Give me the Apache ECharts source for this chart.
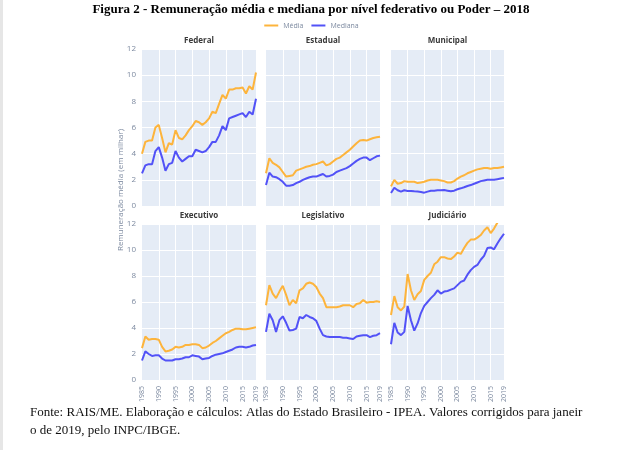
<!DOCTYPE html>
<html><head><meta charset="utf-8">
<script src="https://cdn.jsdelivr.net/npm/echarts@6/dist/echarts.min.js"></script>
<style>html,body{margin:0;padding:0;background:#fff}#c{width:623px;height:450px}</style>
</head><body><div id="c"></div>
<script>
const years = ['1985','1986','1987','1988','1989','1990','1991','1992','1993','1994','1995','1996','1997','1998','1999','2000','2001','2002','2003','2004','2005','2006','2007','2008','2009','2010','2011','2012','2013','2014','2015','2016','2017','2018','2019'];
const panels = ['Federal','Estadual','Municipal','Executivo','Legislativo','Judiciário'];
const seriesNames = ['Média','Mediana'];
const yTicks = [0,2,4,6,8,10,12];

const federalMedia   = [4.0,4.9,5.0,5.0,6.0,6.2,5.2,4.1,4.8,4.7,5.8,5.2,5.1,5.4,5.8,6.1,6.5,6.4,6.2,6.4,6.7,7.2,7.1,7.8,8.5,8.2,8.9,8.9,9.0,9.0,9.05,8.6,9.15,8.9,10.2];
const federalMediana = [2.5,3.1,3.2,3.2,4.2,4.5,3.7,2.7,3.2,3.3,4.2,3.7,3.4,3.6,3.8,3.8,4.3,4.2,4.1,4.2,4.5,4.9,4.9,5.4,6.1,5.8,6.7,6.8,6.9,7.0,7.1,6.8,7.2,7.0,8.2];
const estadualMedia   = [2.5,3.65,3.3,3.15,2.95,2.6,2.25,2.3,2.35,2.7,2.8,2.9,3.0,3.05,3.15,3.2,3.3,3.4,3.1,3.2,3.4,3.6,3.7,3.9,4.1,4.3,4.55,4.8,5.0,5.05,5.0,5.1,5.2,5.25,5.3];
const estadualMediana = [1.6,2.55,2.25,2.2,2.05,1.85,1.55,1.55,1.6,1.75,1.85,2.0,2.1,2.2,2.25,2.25,2.35,2.45,2.25,2.3,2.4,2.6,2.7,2.8,2.9,3.05,3.25,3.45,3.6,3.7,3.7,3.5,3.65,3.8,3.85];
const municipalMedia   = [1.5,2.0,1.7,1.75,1.9,1.85,1.85,1.85,1.75,1.8,1.85,1.95,2.0,2.0,2.0,1.95,1.9,1.8,1.8,1.9,2.1,2.25,2.35,2.5,2.6,2.7,2.8,2.85,2.9,2.9,2.85,2.9,2.9,2.95,3.0];
const municipalMediana = [1.0,1.4,1.2,1.1,1.2,1.15,1.15,1.12,1.1,1.07,1.02,1.1,1.17,1.17,1.2,1.2,1.22,1.17,1.12,1.17,1.28,1.35,1.43,1.53,1.6,1.7,1.8,1.9,1.95,2.0,2.0,2.0,2.05,2.1,2.15];
const executivoMedia   = [2.45,3.35,3.1,3.15,3.15,3.1,2.55,2.2,2.25,2.35,2.55,2.5,2.55,2.7,2.7,2.75,2.75,2.7,2.45,2.5,2.65,2.85,3.0,3.2,3.4,3.6,3.7,3.85,3.95,3.95,3.9,3.9,3.95,4.0,4.05];
const executivoMediana = [1.5,2.2,2.0,1.85,1.9,1.9,1.65,1.5,1.5,1.5,1.6,1.6,1.65,1.75,1.75,1.9,1.85,1.8,1.6,1.65,1.7,1.85,1.95,2.0,2.05,2.15,2.25,2.35,2.5,2.55,2.55,2.5,2.55,2.65,2.7];
const legislativoMedia   = [5.75,7.3,6.65,6.3,6.8,7.25,6.55,5.75,6.15,5.9,6.9,7.05,7.4,7.5,7.4,7.15,6.65,6.3,5.6,5.6,5.6,5.6,5.65,5.75,5.75,5.75,5.6,5.85,5.9,6.15,5.95,6.0,6.0,6.05,6.0];
const legislativoMediana = [3.7,5.1,4.6,3.7,4.6,4.9,4.4,3.8,3.85,3.95,4.85,4.75,5.0,4.85,4.75,4.55,3.95,3.45,3.35,3.3,3.3,3.3,3.3,3.25,3.25,3.2,3.15,3.35,3.4,3.45,3.45,3.3,3.4,3.45,3.6];
const judiciarioMedia   = [5.0,6.45,5.6,5.35,5.65,8.15,6.9,6.15,6.6,6.85,7.7,8.0,8.25,8.9,9.1,9.45,9.45,9.35,9.3,9.5,9.8,9.7,10.15,10.55,10.8,10.8,10.95,11.15,11.5,11.75,11.3,11.65,12.1,12.5,13.0];
const judiciarioMediana = [2.75,4.4,3.65,3.45,3.7,5.7,4.6,3.8,4.35,5.15,5.7,6.0,6.3,6.55,6.9,6.65,6.8,6.85,6.95,7.05,7.3,7.55,7.65,8.1,8.45,8.7,8.85,9.25,9.55,10.15,10.2,10.05,10.5,10.9,11.25];

const mediaData = [federalMedia, estadualMedia, municipalMedia, executivoMedia, legislativoMedia, judiciarioMedia];
const medianaData = [federalMediana, estadualMediana, municipalMediana, executivoMediana, legislativoMediana, judiciarioMediana];

const colMedia = '#FDB43C', colMediana = '#5252F7';
const lefts = [142, 266, 391], widths = [114, 114, 113];
const tops = [49, 224], heights = [157, 156];
const tickColor = '#7d8aa0';

const grids = [], xAxes = [], yAxes = [], series = [], graphics = [];
for (let i = 0; i < 6; i++) {
  const r = Math.floor(i / 3), c = i % 3;
  grids.push({left: lefts[c], top: tops[r], width: widths[c], height: heights[r], backgroundColor: '#E5ECF6', show: true, borderWidth: 0});
  xAxes.push({
    type: 'category', gridIndex: i, data: years, boundaryGap: false,
    axisLine: {show: false}, axisTick: {show: false},
    axisLabel: {show: r === 1, rotate: 90, fontSize: 7, color: tickColor, fontFamily: 'Open Sans', margin: 6,
      interval: (idx) => idx % 5 === 0 || idx === years.length - 1},
    splitLine: {show: true, lineStyle: {color: '#fff', width: 1}, interval: (idx) => idx % 5 === 0 && idx > 0}
  });
  yAxes.push({
    type: 'value', gridIndex: i, min: yTicks[0], max: yTicks[yTicks.length - 1], interval: 2,
    axisLine: {show: false}, axisTick: {show: false},
    axisLabel: {show: c === 0, fontSize: 8, color: tickColor, fontFamily: 'Open Sans', margin: 6},
    splitLine: {show: true, lineStyle: {color: '#fff', width: 1}}
  });
  series.push({name: seriesNames[0], type: 'line', xAxisIndex: i, yAxisIndex: i, data: mediaData[i], showSymbol: false, lineStyle: {color: colMedia, width: 2}, itemStyle: {color: colMedia}, clip: true});
  series.push({name: seriesNames[1], type: 'line', xAxisIndex: i, yAxisIndex: i, data: medianaData[i], showSymbol: false, lineStyle: {color: colMediana, width: 2}, itemStyle: {color: colMediana}, clip: true});
  graphics.push({type: 'text', x: lefts[c] + widths[c] / 2, y: tops[r] - 8,
    style: {text: panels[i], fontSize: 8, fontWeight: 'bold', fill: '#3a3a3a', fontFamily: 'Open Sans', align: 'center', verticalAlign: 'middle'}});
}

graphics.push({type: 'text', x: 311, y: 10,
  style: {text: 'Figura 2 - Remuneração média e mediana por nível federativo ou Poder – 2018', fontSize: 13, fontWeight: 'bold', fill: '#000', fontFamily: 'Liberation Serif', align: 'center', verticalAlign: 'middle'}});
graphics.push({type: 'text', x: 121, y: 190, rotation: Math.PI / 2,
  style: {text: 'Remuneração média (em milhar)', fontSize: 8, fill: tickColor, fontFamily: 'Open Sans', align: 'center', verticalAlign: 'middle'}});
graphics.push({type: 'text', x: 30, y: 413,
  style: {text: 'Fonte: RAIS/ME. Elaboração e cálculos: Atlas do Estado Brasileiro - IPEA. Valores corrigidos para janeir', fontSize: 13, fill: '#111', fontFamily: 'Liberation Serif', align: 'left', verticalAlign: 'middle'}});
graphics.push({type: 'text', x: 30, y: 431,
  style: {text: 'o de 2019, pelo INPC/IBGE.', fontSize: 13, fill: '#111', fontFamily: 'Liberation Serif', align: 'left', verticalAlign: 'middle'}});
graphics.push({type: 'rect', shape: {x: 0, y: 0, width: 3, height: 450}, style: {fill: '#e6e6e6'}});

const chart = echarts.init(document.getElementById('c'), null, {renderer: 'canvas'});
chart.setOption({
  animation: false,
  backgroundColor: '#fff',
  legend: {data: seriesNames, top: 17, left: 'center', itemWidth: 14, itemHeight: 2, itemGap: 8, icon: 'rect',
    textStyle: {fontSize: 7, color: tickColor, fontFamily: 'Open Sans'}},
  grid: grids, xAxis: xAxes, yAxis: yAxes, series: series, graphic: graphics
});
</script></body></html>
